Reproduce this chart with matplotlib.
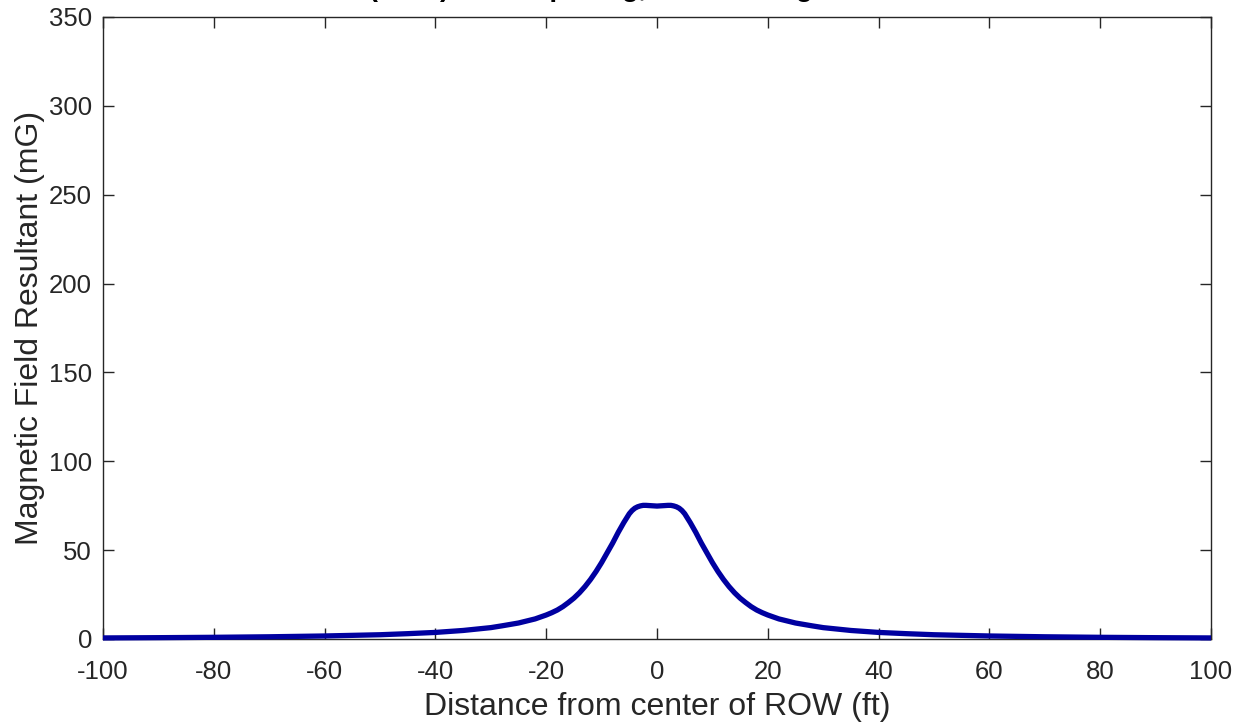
import matplotlib
matplotlib.use("Agg")
import matplotlib.pyplot as plt

plt.rcParams['font.family'] = ['Liberation Sans', 'DejaVu Sans']
plt.rcParams['axes.unicode_minus'] = False

distance_ft = [-100, -90, -80, -70, -60, -50, -45, -40, -35, -30, -28, -25, -22, -20, -19, -18, -17,
               -16, -15, -14, -13, -12, -11, -10, -9, -8, -7, -6, -5, -4.5, -4, -3.5, -3, -2.5, -2,
               -1.5, -1, -0.5, 0,
               0.5, 1, 1.5, 2, 2.5, 3, 3.5, 4, 4.5, 5, 6, 7, 8, 9, 10, 11, 12, 13, 14, 15,
               16, 17, 18, 19, 20, 22, 25, 28, 30, 35, 40, 45, 50, 60, 70, 80, 90, 100]
field_mG = [0.6, 0.75, 0.95, 1.25, 1.7, 2.4, 3.0, 3.7, 4.8, 6.4, 7.4, 9.0, 11.3, 13.5, 14.8, 16.3, 18.2,
            20.5, 23.0, 26.0, 29.5, 33.5, 38.0, 43.0, 48.5, 54.0, 60.0, 65.5, 70.5, 72.3, 73.6, 74.4, 74.9, 75.2, 75.2,
            75.1, 75.0, 74.9, 74.8,
            74.9, 75.0, 75.1, 75.2, 75.2, 74.9, 74.4, 73.6, 72.3, 70.5, 65.5, 60.0, 54.0, 48.5, 43.0, 38.0, 33.5, 29.5, 26.0, 23.0,
            20.5, 18.2, 16.3, 14.8, 13.5, 11.3, 9.0, 7.4, 6.4, 4.8, 3.7, 3.0, 2.4, 1.7, 1.25, 0.95, 0.75, 0.6]

x_ticks = [-100, -80, -60, -40, -20, 0, 20, 40, 60, 80, 100]
y_ticks = [0, 50, 100, 150, 200, 250, 300, 350]

title_text = "Case A (2030) Wide Spacing, Normal Magnetic Field Profile"
x_label = "Distance from center of ROW (ft)"
y_label = "Magnetic Field Resultant (mG)"

W, H = 1240, 728
fig = plt.figure(figsize=(W / 100, H / 100), dpi=100)
ax = fig.add_axes([103 / W, 1 - 639 / H, (1211 - 103) / W, (639 - 17) / H])

ax.plot(distance_ft, field_mG, color='#0000A0', linewidth=3.8, solid_joinstyle='round',
        solid_capstyle='butt', clip_on=False, zorder=3)

ax.set_xlim(-100, 100)
ax.set_ylim(0, 350)
ax.set_xticks(x_ticks)
ax.set_yticks(y_ticks)

tc = '#262626'
for s in ax.spines.values():
    s.set_color(tc)
    s.set_linewidth(1.0)
ax.tick_params(direction='in', length=8, width=1.0, colors=tc, labelsize=18.5,
               top=True, right=True)
ax.tick_params(axis='x', pad=15)
ax.tick_params(axis='y', pad=8)
for lab in ax.get_xticklabels() + ax.get_yticklabels():
    lab.set_color(tc)

ax.set_xlabel(x_label, fontsize=23, color=tc, labelpad=6)
ax.set_ylabel(y_label, fontsize=23, color=tc, labelpad=3)

fig.text(657 / W, 1 + 4 / H, title_text, ha='center', va='baseline',
         fontsize=20, fontweight='bold', color='black')

fig.savefig('out.png', dpi=100)
